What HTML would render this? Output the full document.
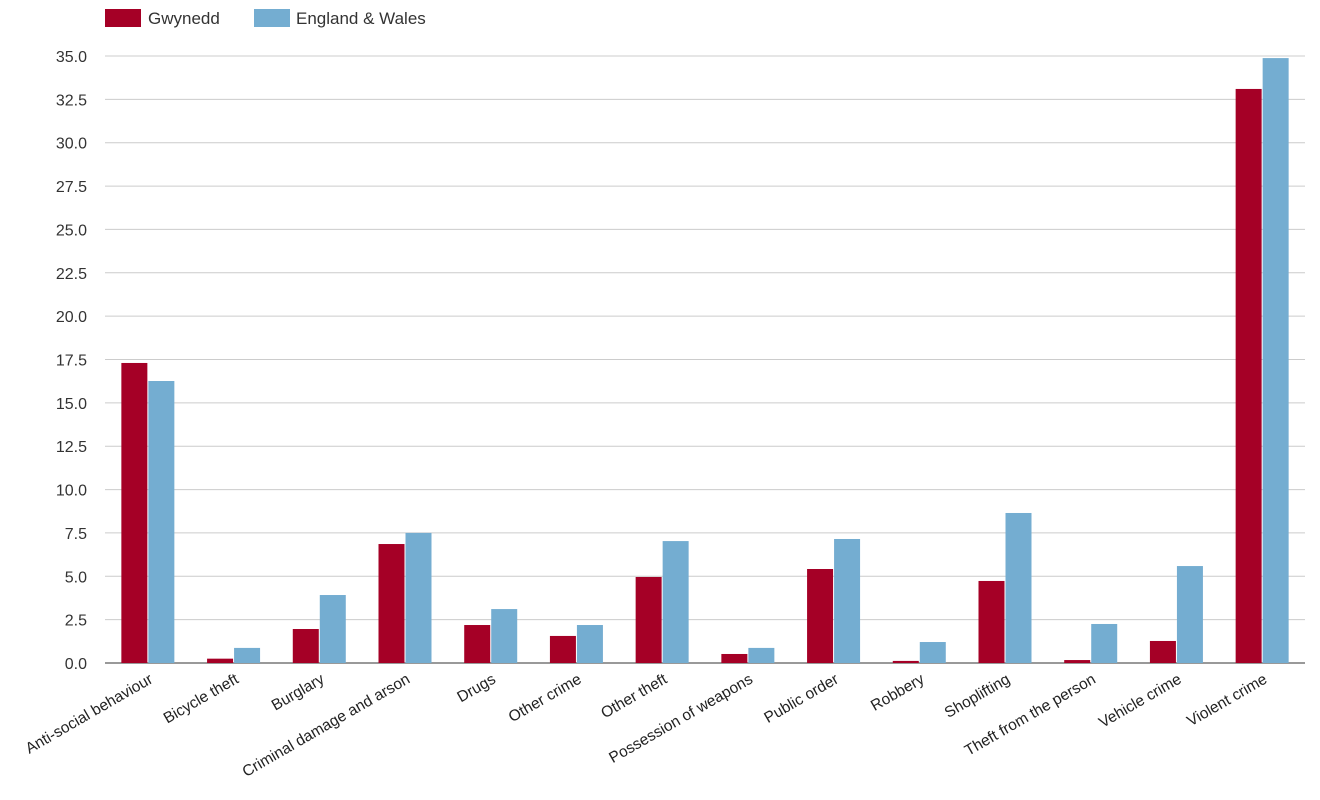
<!DOCTYPE html>
<html><head><meta charset="utf-8"><style>
body{margin:0;background:#fff;font-family:"Liberation Sans",Arial,sans-serif;}
svg{display:block}
</style></head><body>
<svg id="chart" width="1320" height="800">
<g>
<rect x="105" y="9" width="36" height="18" fill="#a50026"></rect>
<text x="148" y="24" font-size="17" fill="#333">Gwynedd</text>
<rect x="254" y="9" width="36" height="18" fill="#74add1"></rect>
<text x="296" y="24" font-size="17" fill="#333">England &amp; Wales</text>
</g>
<g id="grid"></g><g id="bars"></g><g id="xl"></g>
</svg>
<script>
const categories=["Anti-social behaviour","Bicycle theft","Burglary","Criminal damage and arson","Drugs","Other crime","Other theft","Possession of weapons","Public order","Robbery","Shoplifting","Theft from the person","Vehicle crime","Violent crime"];
const gwynedd=[17.3,0.25,1.96,6.86,2.19,1.56,4.96,0.52,5.42,0.12,4.73,0.17,1.27,33.1];
const englandWales=[16.26,0.87,3.92,7.5,3.11,2.19,7.03,0.87,7.15,1.21,8.65,2.25,5.59,34.88];
const yTicks=[0,2.5,5,7.5,10,12.5,15,17.5,20,22.5,25,27.5,30,32.5,35];
const NS="http://www.w3.org/2000/svg";
const x0=105,x1=1305,yBase=663,yTop=56,yMax=35;
const y=v=>yBase-(v/yMax)*(yBase-yTop);
const band=(x1-x0)/categories.length;
const cx=i=>x0+band*(i+0.5);
function mk(t,a,p){const e=document.createElementNS(NS,t);for(const k in a)e.setAttribute(k,a[k]);p.appendChild(e);return e;}
const grid=document.getElementById('grid');
yTicks.forEach(v=>{
 const l=mk('line',{x1:x0,x2:x1,y1:y(v),y2:y(v),stroke:v===0?'#333':'#ccc','stroke-width':1},grid);
 
 
 const t=mk('text',{x:87,y:y(v)+6,'text-anchor':'end','font-size':16,fill:'#333'},grid);
 t.textContent=v.toFixed(1);
 
 
});
const bars=document.getElementById('bars'),xl=document.getElementById('xl');
categories.forEach((c,i)=>{
 const g=mk('rect',{x:cx(i)-26.5,y:y(gwynedd[i]),width:26,height:yBase-y(gwynedd[i]),fill:'#a50026'},bars);
 
 
 const e=mk('rect',{x:cx(i)+0.5,y:y(englandWales[i]),width:26,height:yBase-y(englandWales[i]),fill:'#74add1'},bars);
 
 
 const t=mk('text',{x:cx(i)+6,y:682,'text-anchor':'end','font-size':15.5,fill:'#222',transform:`rotate(-30 ${cx(i)+6} 682)`},xl);
 t.textContent=c;
 
 
});
</script>
</body></html>
